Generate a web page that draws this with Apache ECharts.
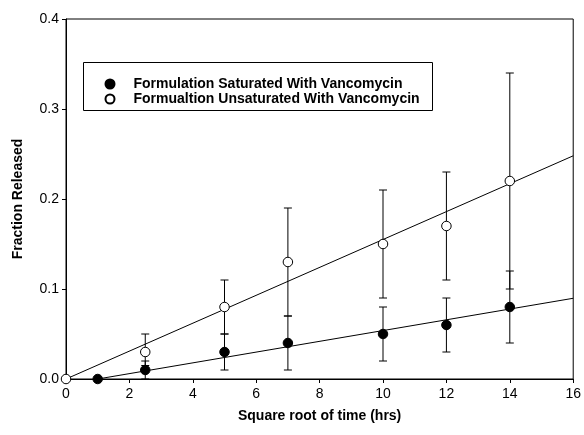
<!DOCTYPE html>
<html><head><meta charset="utf-8">
<script src="https://cdn.jsdelivr.net/npm/echarts@6/dist/echarts.min.js"></script>
<style>html,body{margin:0;padding:0;background:#fff}#c{width:584px;height:435px}</style>
</head><body><div id="c"></div>
<script>
// Data
var satX = [1, 2.5, 5, 7, 10, 12, 14];
var satY = [0, 0.01, 0.03, 0.04, 0.05, 0.06, 0.08];
var satErr = [0, 0.01, 0.02, 0.03, 0.03, 0.03, 0.04];
var unsatX = [0, 2.5, 5, 7, 10, 12, 14];
var unsatY = [0, 0.03, 0.08, 0.13, 0.15, 0.17, 0.22];
var unsatErrLow = [0, 0.015, 0.03, 0.06, 0.06, 0.06, 0.12];
var unsatErrHigh = [0, 0.02, 0.03, 0.06, 0.06, 0.06, 0.12];
var satFitX = [1, 16];
var satFitY = [0, 0.0897];
var unsatFitX = [0, 16];
var unsatFitY = [0, 0.248];
var xTicks = [0, 2, 4, 6, 8, 10, 12, 14, 16];
var yTicks = [0.0, 0.1, 0.2, 0.3, 0.4];
var satName = 'Formulation Saturated With Vancomycin';
var unsatName = 'Formualtion Unsaturated With Vancomycin';

var FONT = '"Liberation Sans", Arial, sans-serif';
function pairs(xs, ys){ return xs.map(function(x,i){ return [x, ys[i]]; }); }
var satErrData = satX.map(function(x,i){ return [x, satY[i]-satErr[i], satY[i]+satErr[i]]; }).filter(function(d){return d[2]>d[1];});
var unsatErrData = unsatX.map(function(x,i){ return [x, unsatY[i]-unsatErrLow[i], unsatY[i]+unsatErrHigh[i]]; }).filter(function(d){return d[2]>d[1];});

function errRender(params, api){
  var x = api.value(0);
  var lo = api.coord([x, api.value(1)]);
  var hi = api.coord([x, api.value(2)]);
  var hw = 4;
  var st = {stroke:'#000', lineWidth:1};
  return {type:'group', children:[
    {type:'line', shape:{x1:lo[0],y1:lo[1],x2:hi[0],y2:hi[1]}, style:st},
    {type:'line', shape:{x1:lo[0]-hw,y1:lo[1],x2:lo[0]+hw,y2:lo[1]}, style:st},
    {type:'line', shape:{x1:hi[0]-hw,y1:hi[1],x2:hi[0]+hw,y2:hi[1]}, style:st}
  ]};
}

var chart = echarts.init(document.getElementById('c'), null, {renderer:'canvas'});
chart.setOption({
  backgroundColor:'#fff',
  animation:false,
  grid:{left:66, right:10, top:19, bottom:56, show:true, borderColor:'#000', borderWidth:1, backgroundColor:'transparent'},
  xAxis:{type:'value', min:xTicks[0], max:xTicks[xTicks.length-1], interval:2,
    name:'Square root of time (hrs)', nameLocation:'middle', nameGap:30,
    nameTextStyle:{fontFamily:FONT, fontSize:14, fontWeight:'bold', color:'#000'},
    axisLine:{show:true, onZero:false, lineStyle:{color:'#000', width:1}},
    axisTick:{show:true, length:4, lineStyle:{color:'#000'}},
    axisLabel:{fontFamily:FONT, fontSize:14, color:'#000', margin:8},
    splitLine:{show:false}},
  yAxis:{type:'value', min:yTicks[0], max:yTicks[yTicks.length-1], interval:0.1,
    name:'Fraction Released', nameLocation:'middle', nameGap:41,
    nameTextStyle:{fontFamily:FONT, fontSize:14, fontWeight:'bold', color:'#000'},
    axisLine:{show:true, onZero:false, lineStyle:{color:'#000', width:1}},
    axisTick:{show:true, length:4, lineStyle:{color:'#000'}},
    axisLabel:{fontFamily:FONT, fontSize:14, color:'#000', margin:7, formatter:function(v){return v.toFixed(1);}},
    splitLine:{show:false}},
  graphic:[{type:'rect', left:83, top:62, shape:{width:349, height:48}, style:{fill:'#fff', stroke:'#000', lineWidth:1}, z:10}],
  legend:[
    {data:[satName], left:99.5, top:72, orient:'vertical', itemWidth:9, itemHeight:9, z:20,
      textStyle:{fontFamily:FONT, fontSize:14, fontWeight:'bold', color:'#000', padding:[0,0,0,14]}},
    {data:[unsatName], left:99.5, top:87, orient:'vertical', itemWidth:9, itemHeight:9, z:20,
      textStyle:{fontFamily:FONT, fontSize:14, fontWeight:'bold', color:'#000', padding:[0,0,0,14]}}
  ],
  series:[
    {type:'line', data:pairs(unsatFitX, unsatFitY), symbol:'none', lineStyle:{color:'#000', width:1}, z:1, silent:true},
    {type:'line', data:pairs(satFitX, satFitY), symbol:'none', lineStyle:{color:'#000', width:1}, z:1, silent:true},
    {type:'custom', data:unsatErrData, renderItem:errRender, z:2, silent:true},
    {type:'custom', data:satErrData, renderItem:errRender, z:2, silent:true},
    {name:satName, type:'scatter', data:pairs(satX, satY), symbol:'circle', symbolSize:9.5,
      itemStyle:{color:'#000', borderColor:'#000', borderWidth:1, opacity:1}, z:5},
    {name:unsatName, type:'scatter', data:pairs(unsatX, unsatY), symbol:'circle', symbolSize:9.5,
      itemStyle:{color:'#fff', borderColor:'#000', borderWidth:1, opacity:1}, z:5}
  ]
});
</script></body></html>
